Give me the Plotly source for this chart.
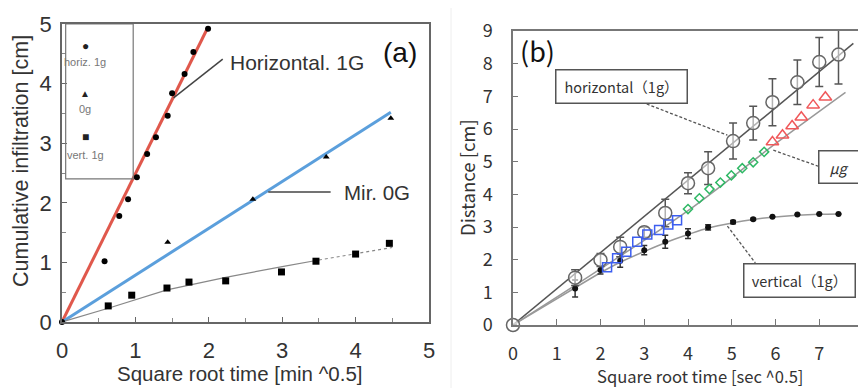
import plotly.graph_objects as go

# ---------------- Panel (a) data ----------------
a_horiz_x = [0, 0.58, 0.78, 0.90, 1.02, 1.16, 1.28, 1.44, 1.50, 1.67, 1.79, 1.99]
a_horiz_y = [0, 1.02, 1.78, 2.06, 2.43, 2.82, 3.10, 3.46, 3.84, 4.16, 4.53, 4.92]
a_zero_x = [1.44, 2.60, 3.60, 4.48]
a_zero_y = [1.34, 2.06, 2.77, 3.42]
a_vert_x = [0.63, 0.95, 1.43, 1.73, 2.23, 2.99, 3.46, 4.00, 4.46]
a_vert_y = [0.27, 0.45, 0.57, 0.67, 0.69, 0.84, 1.02, 1.14, 1.32]
a_fit_h_x = [0, 1.99]
a_fit_h_y = [0, 4.95]
a_fit_0_x = [0, 4.48]
a_fit_0_y = [0, 3.52]
a_fit_v_x = [0, 0.63, 1.43, 2.23, 3.0, 3.5]
a_fit_v_y = [0, 0.23, 0.54, 0.75, 0.93, 1.04]
a_fit_v2_x = [3.5, 4.0, 4.5]
a_fit_v2_y = [1.04, 1.14, 1.25]
a_ticks = [0, 1, 2, 3, 4, 5]

# ---------------- Panel (b) data ----------------
b_h_x = [0, 1.42, 2.0, 2.45, 3.0, 3.48, 4.0, 4.46, 5.03, 5.49, 5.93, 6.5, 7.0, 7.44]
b_h_y = [0, 1.45, 1.99, 2.39, 2.84, 3.43, 4.34, 4.80, 5.63, 6.18, 6.82, 7.43, 8.05, 8.28]
b_h_err = [0, 0.24, 0.2, 0.3, 0.15, 0.42, 0.32, 0.5, 0.55, 0.52, 0.72, 0.68, 0.75, 0.9]
b_v_x = [1.42, 2.0, 2.45, 3.0, 3.48, 4.0, 4.46, 5.03, 5.49, 5.93, 6.5, 7.0, 7.44]
b_v_y = [1.12, 1.68, 1.97, 2.29, 2.55, 2.80, 2.99, 3.15, 3.24, 3.31, 3.38, 3.40, 3.40]
b_v_err = [0.26, 0.12, 0.2, 0.14, 0.2, 0.15, 0.08, 0.05, 0.03, 0, 0, 0, 0]
b_sq_x = [2.15, 2.38, 2.59, 2.84, 3.07, 3.34, 3.55, 3.75]
b_sq_y = [1.77, 2.04, 2.24, 2.55, 2.77, 2.91, 3.08, 3.21]
b_di_x = [4.0, 4.26, 4.49, 4.74, 4.99, 5.24, 5.49, 5.74]
b_di_y = [3.55, 3.88, 4.16, 4.36, 4.58, 4.80, 4.98, 5.30]
b_tr_x = [5.93, 6.16, 6.38, 6.59, 6.86, 7.14]
b_tr_y = [5.60, 5.81, 6.09, 6.36, 6.73, 6.97]
b_fit_h_x = [0, 7.78]
b_fit_h_y = [0, 8.62]
b_fit_mu_x = [0, 2.0, 4.0, 6.0, 7.6]
b_fit_mu_y = [0, 1.72, 3.5, 5.55, 7.12]
b_fit_v_x = [0, 1.42, 2.0, 2.45, 3.0, 3.48, 4.0, 4.46, 5.03, 5.49, 5.93, 6.5, 7.0, 7.44]
b_fit_v_y = [0, 1.14, 1.6, 1.92, 2.25, 2.52, 2.77, 2.97, 3.13, 3.23, 3.3, 3.36, 3.39, 3.4]
b_xticks = [0, 1, 2, 3, 4, 5, 6, 7, 8]
b_yticks = [0, 1, 2, 3, 4, 5, 6, 7, 8, 9]

RED = "#e0584c"
BLUE = "#5b9fdc"
FA = "Liberation Sans, Arial, sans-serif"
FB = "Noto Sans CJK JP, Noto Sans, sans-serif"

fig = go.Figure()

# ---- panel (a) traces ----
fig.add_trace(go.Scatter(x=a_fit_h_x, y=a_fit_h_y, mode="lines", line=dict(color=RED, width=3), xaxis="x", yaxis="y"))
fig.add_trace(go.Scatter(x=a_fit_0_x, y=a_fit_0_y, mode="lines", line=dict(color=BLUE, width=3), xaxis="x", yaxis="y"))
fig.add_trace(go.Scatter(x=a_fit_v_x, y=a_fit_v_y, mode="lines", line=dict(color="#888", width=1.2), xaxis="x", yaxis="y"))
fig.add_trace(go.Scatter(x=a_fit_v2_x, y=a_fit_v2_y, mode="lines", line=dict(color="#888", width=1.2, dash="dot"), xaxis="x", yaxis="y"))
fig.add_trace(go.Scatter(x=a_horiz_x, y=a_horiz_y, mode="markers", marker=dict(symbol="circle", size=6, color="black"), xaxis="x", yaxis="y", cliponaxis=False))
fig.add_trace(go.Scatter(x=a_zero_x, y=a_zero_y, mode="markers", marker=dict(symbol="triangle-up", size=6, color="black"), xaxis="x", yaxis="y"))
fig.add_trace(go.Scatter(x=a_vert_x, y=a_vert_y, mode="markers", marker=dict(symbol="square", size=7, color="black"), xaxis="x", yaxis="y"))

# ---- panel (b) traces ----
fig.add_trace(go.Scatter(x=b_fit_h_x, y=b_fit_h_y, mode="lines", line=dict(color="#555", width=1.5), xaxis="x2", yaxis="y2"))
fig.add_trace(go.Scatter(x=b_fit_mu_x, y=b_fit_mu_y, mode="lines", line=dict(color="#999", width=1.5, shape="spline"), xaxis="x2", yaxis="y2"))
fig.add_trace(go.Scatter(x=b_fit_v_x, y=b_fit_v_y, mode="lines", line=dict(color="#999", width=1.5, shape="spline"), xaxis="x2", yaxis="y2"))
fig.add_trace(go.Scatter(x=b_v_x, y=b_v_y, mode="markers",
                         marker=dict(symbol="circle", size=6, color="#111"),
                         error_y=dict(type="data", array=b_v_err, color="#333", thickness=1.5, width=3),
                         xaxis="x2", yaxis="y2"))
fig.add_trace(go.Scatter(x=b_h_x, y=b_h_y, mode="markers",
                         marker=dict(symbol="circle", size=13, color="rgba(255,255,255,0.55)", line=dict(color="#666", width=1.5)),
                         error_y=dict(type="data", array=b_h_err, color="#555", thickness=1.5, width=4),
                         xaxis="x2", yaxis="y2", cliponaxis=False))
fig.add_trace(go.Scatter(x=b_sq_x, y=b_sq_y, mode="markers",
                         marker=dict(symbol="square-open", size=9, color="#3c5ef0", line=dict(width=1.5)),
                         xaxis="x2", yaxis="y2"))
fig.add_trace(go.Scatter(x=b_di_x, y=b_di_y, mode="markers",
                         marker=dict(symbol="diamond-open", size=7, color="#2fb865", line=dict(width=1.5)),
                         xaxis="x2", yaxis="y2"))
fig.add_trace(go.Scatter(x=b_tr_x, y=b_tr_y, mode="markers",
                         marker=dict(symbol="triangle-up-open", size=11, color="#f0585a", line=dict(width=1.5)),
                         xaxis="x2", yaxis="y2"))

# The page body adds an 8 px margin, so the figure is 8 px smaller and
# positions below are given in window pixels then converted.
OFF = 8
W, H = 866 - OFF, 388 - OFF

def dom_x(p0, p1):
    return [(p0 - OFF) / W, (p1 - OFF) / W]

def dom_y(top, bottom):
    return [1 - (bottom - OFF) / H, 1 - (top - OFF) / H]

def px(x):
    return (x - OFF) / W

def py(y):
    return 1 - (y - OFF) / H

axis_common = dict(showgrid=False, zeroline=False, showline=True, mirror=True, ticks="inside",
                   automargin=False, ticklabeloverflow="allow")

fig.update_layout(
    width=W, height=H, margin=dict(l=0, r=0, t=0, b=0, autoexpand=False),
    paper_bgcolor="white", plot_bgcolor="white", showlegend=False,
    xaxis=dict(domain=dom_x(62, 429), range=[0, 5], tickvals=a_ticks, linecolor="#666", linewidth=1.5,
               ticklen=5, tickcolor="#666", minor=dict(dtick=0.5, ticks="inside", ticklen=4, tickcolor="#888"),
               tickfont=dict(family=FA, size=22, color="#333"), ticklabelstandoff=8,
               anchor="y", **axis_common),
    yaxis=dict(domain=dom_y(24, 322), range=[0, 5], tickvals=a_ticks, linecolor="#666", linewidth=1.5,
               ticklen=5, tickcolor="#666", minor=dict(dtick=0.5, ticks="inside", ticklen=4, tickcolor="#888"),
               tickfont=dict(family=FA, size=22, color="#333"), ticklabelstandoff=4,
               anchor="x", **axis_common),
    xaxis2=dict(domain=dom_x(513, 863), range=[0, 8], tickvals=b_xticks, linecolor="#777", linewidth=1.5,
                ticklen=6, tickcolor="#777",
                tickfont=dict(family=FB, size=18, color="#333"), ticklabelstandoff=12,
                anchor="y2", **axis_common),
    yaxis2=dict(domain=dom_y(31, 325), range=[0, 9], tickvals=b_yticks, linecolor="#777", linewidth=1.5,
                ticklen=5, tickcolor="#777",
                tickfont=dict(family=FB, size=18, color="#333"), ticklabelstandoff=15,
                anchor="x2", **axis_common),
)

C = dict(xanchor="center", yanchor="middle", showarrow=False)
ann = []
# axis titles (placed as paper annotations)
ann.append(dict(x=px(239), y=py(373), xref="paper", yref="paper", text="Square root time [min ^0.5]",
                font=dict(family=FA, size=20.5, color="#333"), **C))
ann.append(dict(x=px(21), y=py(161), xref="paper", yref="paper", text="Cumulative infiltration [cm]",
                textangle=-90, font=dict(family=FA, size=21.5, color="#333"), **C))
ann.append(dict(x=px(700), y=py(376), xref="paper", yref="paper", text="Square root time [sec ^0.5]",
                font=dict(family=FB, size=16.6, color="#333"), **C))
ann.append(dict(x=px(467), y=py(178), xref="paper", yref="paper", text="Distance [cm]",
                textangle=-90, font=dict(family=FB, size=18.5, color="#333"), **C))

# ---- panel (a) annotations ----
ann.append(dict(x=3.2, y=4.36, xref="x", yref="y", text="Horizontal. 1G",
                font=dict(family=FA, size=21, color="#333"), **C))
ann.append(dict(x=4.6, y=4.53, xref="x", yref="y", text="(a)",
                font=dict(family=FA, size=28, color="#111"), **C))
ann.append(dict(x=3.82, y=2.18, xref="x", yref="y", text="Mir. 0G", xanchor="left", yanchor="middle", showarrow=False,
                font=dict(family=FA, size=20.5, color="#333")))
legend_items = [("●", 4.63, 12), ("horiz. 1g", 4.36, 11), ("▲", 3.84, 10), ("0g", 3.58, 11), ("■", 3.10, 12), ("vert. 1g", 2.80, 11)]
for txt, yy, sz in legend_items:
    ann.append(dict(x=0.32, y=yy, xref="x", yref="y", text=txt,
                    font=dict(family=FA, size=sz, color="#222" if len(txt) == 1 else "#777"), **C))

# ---- panel (b) annotations ----
ann.append(dict(x=0.55, y=8.41, xref="x2", yref="y2", text="(b)",
                font=dict(family=FB, size=27, color="#111"), **C))
box = dict(bordercolor="#555", borderwidth=1.5, bgcolor="white",
           font=dict(family=FB, size=14.5, color="#333"), **C)
ann.append(dict(x=2.47, y=7.31, xref="x2", yref="y2", text="horizontal（1g）", width=128, height=30, **box))
ann.append(dict(x=7.44, y=4.83, xref="x2", yref="y2", text="<i>μg</i>", width=37, height=29, **box))
ann.append(dict(x=6.54, y=1.35, xref="x2", yref="y2", text="vertical（1g）", width=108, height=30, **box))
fig.update_layout(annotations=ann)

shapes = []
# panel (a) leader lines and legend frame
shapes.append(dict(type="line", xref="x", yref="y", x0=1.52, y0=3.76, x1=2.19, y1=4.41, line=dict(color="#444", width=1.5)))
shapes.append(dict(type="line", xref="x", yref="y", x0=2.81, y0=2.18, x1=3.66, y1=2.18, line=dict(color="#444", width=1.5)))
shapes.append(dict(type="rect", xref="x", yref="y", x0=0.05, y0=2.40, x1=0.97, y1=5.0, line=dict(color="#777", width=1.2)))
# panel (b) leader lines
dash = dict(color="#555", width=1.3, dash="3px,2px")
shapes.append(dict(type="line", xref="x2", yref="y2", x0=2.95, y0=6.82, x1=4.9, y1=5.81, line=dash))
shapes.append(dict(type="line", xref="x2", yref="y2", x0=5.95, y0=5.35, x1=6.98, y1=4.86, line=dash))
shapes.append(dict(type="line", xref="x2", yref="y2", x0=4.9, y0=3.03, x1=5.54, y1=1.9, line=dash))
# faint panel separator
shapes.append(dict(type="line", xref="paper", yref="paper", x0=px(451), y0=0, x1=px(451), y1=1, line=dict(color="#eeeeee", width=1)))
fig.update_layout(shapes=shapes)

fig.write_html("out.html")
